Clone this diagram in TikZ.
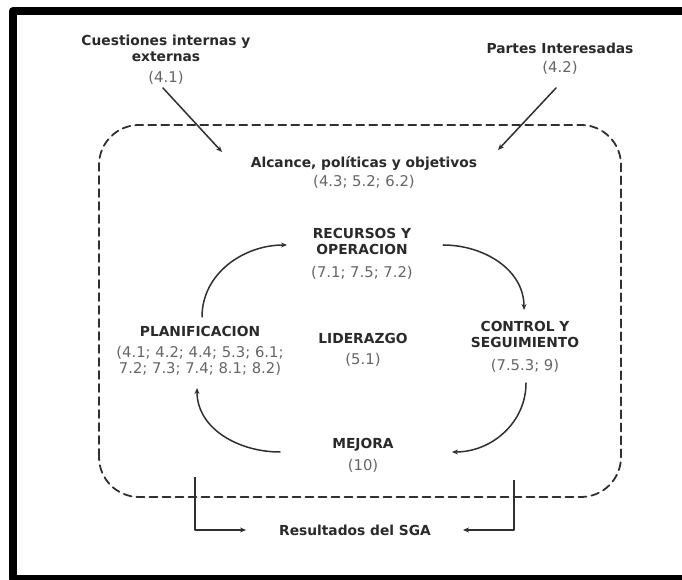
\documentclass[tikz,border=0pt]{standalone}
\usepackage{fontspec}
\setmainfont{DejaVu Sans}
\usetikzlibrary{arrows.meta}
\definecolor{headgray}{HTML}{2A2A2A}
\definecolor{numgray}{HTML}{666666}
\definecolor{linegray}{HTML}{303030}
\newcommand{\nums}[1]{{\mdseries\fontsize{14.8}{17}\selectfont\color{numgray}#1}}
\tikzset{
	lbl/.style={font=\fontsize{13.8}{16}\selectfont\bfseries, text=headgray, align=center, inner sep=0pt},
	flow/.style={draw=linegray, line width=1.5pt, -{Stealth[length=6pt,width=5pt]}},
	sgabox/.style={draw=linegray, line width=1.8pt, dash pattern=on 8pt off 5pt, rounded corners=40pt},
}
\begin{document}
\begin{tikzpicture}[x=1pt, y=1pt, line join=round, line cap=round]
	\useasboundingbox (0,0) rectangle (682,580);
	\clip (0,0) rectangle (682,580);
	\fill[white] (0,0) rectangle (682,580);
	\draw[line width=8pt] (13,1) rectangle (700,569);
	\draw[sgabox] (99,83) rectangle (621,455);
	\node[lbl] (cuest) at (166,520) {Cuestiones internas y\\externas\\[5pt]\nums{(4.1)}};
	\node[lbl] (partes) at (560,521.5) {Partes Interesadas\\[3pt]\nums{(4.2)}};
	\node[lbl] (alcance) at (364,407.5) {Alcance, políticas y objetivos\\[3pt]\nums{(4.3; 5.2; 6.2)}};
	\node[lbl] (recursos) at (362,326) {RECURSOS Y\\OPERACION\\[7pt]\nums{(7.1; 7.5; 7.2)}};
	\node[lbl] (planif) at (200,229) {PLANIFICACION\\[5pt]\nums{(4.1; 4.2; 4.4; 5.3; 6.1;}\\\nums{7.2; 7.3; 7.4; 8.1; 8.2)}};
	\node[lbl] (lider) at (363,230) {LIDERAZGO\\[5pt]\nums{(5.1)}};
	\node[lbl] (control) at (525,233) {CONTROL Y\\SEGUIMIENTO\\[7pt]\nums{(7.5.3; 9)}};
	\node[lbl] (mejora) at (363,124.5) {MEJORA\\[6pt]\nums{(10)}};
	\node[lbl] (result) at (355,50) {Resultados del SGA};
	\coordinate (cuest out) at (163,492);
	\coordinate (cuest in) at (222,428);
	\coordinate (partes out) at (556,492);
	\coordinate (partes in) at (498,430);
	\coordinate (planif out) at (202,263);
	\coordinate (recursos in) at (287,335);
	\coordinate (recursos out) at (443,335);
	\coordinate (control in) at (524,270);
	\coordinate (control out) at (526,197);
	\coordinate (mejora in) at (452,128);
	\coordinate (mejora out) at (280,128);
	\coordinate (planif in) at (197,192);
	\coordinate (left out) at (195,103);
	\coordinate (left in) at (246,50);
	\coordinate (right out) at (514,100);
	\coordinate (right in) at (463,50);
	\draw[flow] (cuest out) -- (cuest in);
	\draw[flow] (partes out) -- (partes in);
	\draw[flow] (planif out) to[out=90,in=180] (recursos in);
	\draw[flow] (recursos out) to[out=0,in=90] (control in);
	\draw[flow] (control out) to[out=-90,in=0] (mejora in);
	\draw[flow] (mejora out) to[out=180,in=-90] (planif in);
	\draw[flow, line cap=butt] (left out) |- (left in);
	\draw[flow, line cap=butt] (right out) |- (right in);
\end{tikzpicture}
\end{document}
